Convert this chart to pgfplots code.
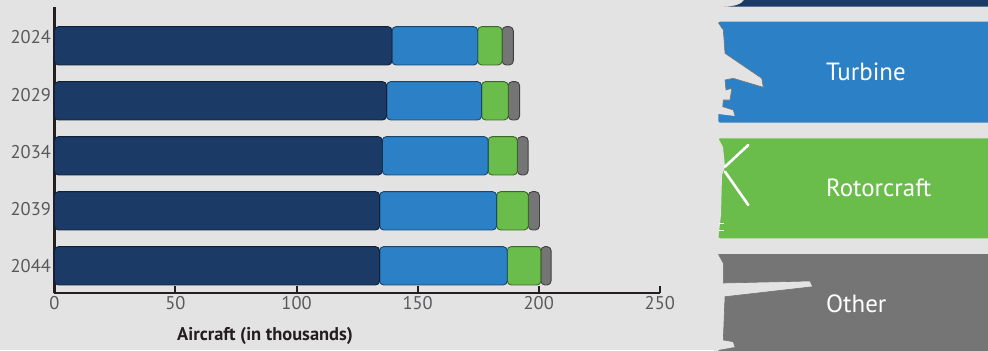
\documentclass[border=0pt]{standalone}
\usepackage{fontspec}
\setmainfont{PT Sans}
\usepackage{pgfplots}
\usepackage{pgfplotstable}
\pgfplotsset{compat=1.18}

\definecolor{bg}{RGB}{227,227,227}
\definecolor{piston}{RGB}{27,58,102}
\definecolor{turbine}{RGB}{43,128,198}
\definecolor{rotor}{RGB}{106,189,75}
\definecolor{other}{RGB}{117,117,117}
\definecolor{axisc}{RGB}{35,31,32}
\definecolor{labc}{RGB}{88,89,91}

% General aviation fleet (thousands of aircraft)
\pgfplotstableread{
pos year piston turbine rotor other
4 2024 139.4 35.4 10.1 4.6
3 2029 137.2 39.2 11.0 4.7
2 2034 135.4 43.7 12.1 4.4
1 2039 134.3 48.3 13.1 4.6
0 2044 134.3 52.7 13.9 4.2
}\fleet

\pgfplotsset{
  segment/.style={fill=#1, draw=#1!55!black, line width=0.9bp, rounded corners=4bp},
}

\begin{document}
\begin{tikzpicture}[x=1bp,y=1bp]
\fill[bg, use as bounding box] (0,0) rectangle (988,350);

\begin{axis}[
  at={(54.4bp,56.7bp)}, anchor=south west,
  scale only axis, width=605.4bp, height=286bp,
  xbar stacked, bar width=38.3bp,
  xmin=0, xmax=250, ymin=-0.5, ymax=4.7,
  xtick={0,50,...,250},
  ytick={0,...,4},
  % year labels sit a little above their bars, more so towards the top
  yticklabels={\raisebox{-1bp}{2044},\raisebox{3bp}{2039},\raisebox{8bp}{2034},
    \raisebox{12bp}{2029},\raisebox{17bp}{2024}},
  axis lines*=left,
  axis line style={axisc, line width=2.3bp},
  tick align=inside, major tick length=7bp,
  xtick style={axisc, line width=2bp},
  ytick style={draw=none},
  tick label style={font=\fontsize{18.5}{18.5}\selectfont, text=labc},
  /pgf/number format/assume math mode=true,
  xlabel={Aircraft (in thousands)},
  xlabel style={at={(axis description cs:0.348,0)}, anchor=center,
    yshift=-42.7bp, font=\fontsize{18.5}{18.5}\selectfont\bfseries, text=axisc},
  clip=false,
]
\addplot[segment=piston]  table[x=piston,  y=pos] {\fleet};
\addplot[segment=turbine] table[x=turbine, y=pos] {\fleet};
\addplot[segment=rotor]   table[x=rotor,   y=pos] {\fleet};
\addplot[segment=other]   table[x=other,   y=pos] {\fleet};
\end{axis}

% category panels on the right
\begin{scope}
\clip (0,0) rectangle (988,350);
% piston (cut off at the top)
\fill[piston] (724,343.3) .. controls (735,343.5) and (742,346) .. (744,350)
  -- (744,356) -- (992,356) -- (992,343.3) -- cycle;
% turbine
\fill[turbine, rounded corners=2bp] (718.3,227.3) rectangle (995,328.3);
\fill[bg] (714,330) -- (718.3,327.3) -- (723.3,320) -- (725,296.7) -- (761.7,271.7)
  -- (763.3,262.7) -- (733.3,271.7) -- (725,270) -- (726,260) -- (731.7,261.7)
  -- (730,250) -- (723.3,250) -- (722.7,243.3) -- (733.3,240) -- (735,234)
  -- (718.3,236) -- (714,236) -- cycle;
\draw[black!55, line width=0.6bp] (718.3,327.3) -- (723.3,320) -- (725,296.7) -- (761.7,271.7)
  -- (763.3,262.7) -- (733.3,271.7) -- (725,270) -- (726,260) -- (731.7,261.7)
  -- (730,250) -- (723.3,250) -- (722.7,243.3) -- (733.3,240) -- (735,234);
\node[anchor=base west, text=white, font=\fontsize{25}{25}\selectfont, inner sep=0pt]
  at (826,269.5) {Turbine};
% rotorcraft
\fill[rotor, rounded corners=2bp] (718.3,111.7) rectangle (995,211.7);
\fill[bg] (714,212) -- (718.3,211.7) -- (723,203) -- (725,183) -- (722,175)
  -- (721,135) -- (718.3,112) -- (714,112) -- cycle;
\draw[white, line width=2.6bp, line cap=round] (725,183.3) -- (748.3,205);
\draw[white, line width=2.6bp, line cap=round] (725,178.3) -- (748.3,145);
\draw[white, line width=0.8bp] (719,127) -- (724,127) (719,120) -- (724,120);
\node[anchor=base west, text=white, font=\fontsize{25}{25}\selectfont, inner sep=0pt]
  at (826,153.2) {Rotorcraft};
% other
\fill[other, rounded corners=2bp] (718.3,-5) rectangle (995,96);
\fill[bg] (714,96) -- (718.3,96) -- (723.3,86.7) -- (723.3,67) -- (810,69)
  -- (812.7,63.3) -- (725,53.3) -- (723.3,10) -- (733.3,8.3) -- (735,3)
  -- (718.3,0) -- (714,-2) -- cycle;
\draw[black!55, line width=0.6bp] (718.3,96) -- (723.3,86.7) -- (723.3,67) -- (810,69)
  -- (812.7,63.3) -- (725,53.3) -- (723.3,10) -- (733.3,8.3) -- (735,3);
\node[anchor=base west, text=white, font=\fontsize{25}{25}\selectfont, inner sep=0pt]
  at (826,37.2) {Other};
\end{scope}
\end{tikzpicture}
\end{document}
